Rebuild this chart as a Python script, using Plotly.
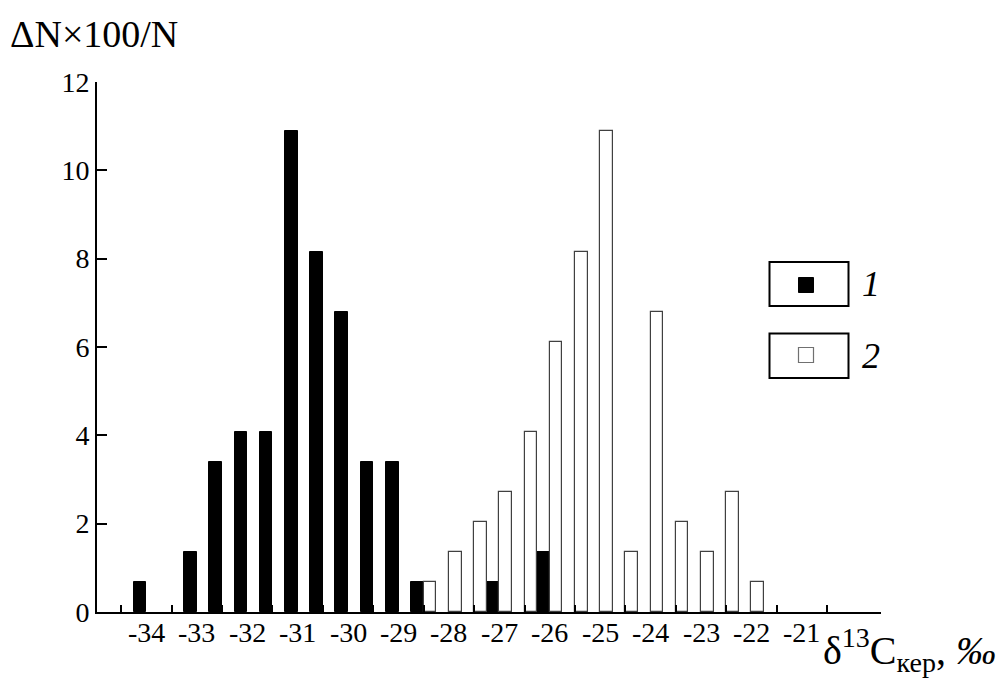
import plotly.graph_objects as go

# ---------------- data ----------------
bin_centers = [-34.0, -33.5, -33.0, -32.5, -32.0, -31.5, -31.0, -30.5, -30.0,
               -29.5, -29.0, -28.5, -28.0, -27.5, -27.0, -26.5, -26.0, -25.5,
               -25.0, -24.5, -24.0, -23.5, -23.0, -22.5, -22.0]
series_1 = [0.68, 0, 1.36, 3.40, 4.08, 4.08, 10.88, 8.16, 6.80,
            3.40, 3.40, 0.68, 0, 0, 0.68, 0, 1.36, 0,
            0, 0, 0, 0, 0, 0, 0]
series_2 = [0, 0, 0, 0, 0, 0, 0, 0, 0,
            0, 0, 0.68, 1.36, 2.04, 2.72, 4.08, 6.12, 8.16,
            10.88, 1.36, 6.80, 2.04, 1.36, 2.72, 0.68]
x_tick_values = [-34, -33, -32, -31, -30, -29, -28, -27, -26, -25, -24, -23, -22, -21]
x_tick_labels = ["-34", "-33", "-32", "-31", "-30", "-29", "-28", "-27", "-26",
                 "-25", "-24", "-23", "-22", "-21"]
x_bin_edges = [-34.5, -33.5, -32.5, -31.5, -30.5, -29.5, -28.5, -27.5, -26.5,
               -25.5, -24.5, -23.5, -22.5, -21.5, -20.5]
y_tick_values = [0, 2, 4, 6, 8, 10, 12]
legend_labels = ["1", "2"]

# ---------------- layout geometry (window pixels) ----------------
WIN_W, WIN_H = 1006, 682
OFF = 8                      # default page-body margin
W, H = WIN_W - OFF, WIN_H - OFF
L, R, T, B = 97, 881, 82, 612   # plot area in window pixels


def px2x(px):
    return (px - L) / (R - L)


def py2y(py):
    return (B - py) / (B - T)


FONT = "Liberation Serif, Times New Roman, serif"

fig = go.Figure()
fig.add_trace(go.Bar(
    x=bin_centers, y=[v if v else None for v in series_1], name=legend_labels[0],
    marker=dict(color="black", line=dict(color="black", width=1)),
))
fig.add_trace(go.Bar(
    x=bin_centers, y=[v if v else None for v in series_2], name=legend_labels[1],
    marker=dict(color="white", line=dict(color="#404040", width=1.2)),
))

fig.update_layout(
    width=W, height=H,
    margin=dict(l=L - OFF, r=W - (R - OFF), t=T - OFF, b=H - (B - OFF), pad=0),
    paper_bgcolor="white", plot_bgcolor="white",
    barmode="group", bargap=0, bargroupgap=0,
    showlegend=False,
    font=dict(family=FONT, color="black"),
    xaxis=dict(
        range=[-34.98, -19.43],
        tickmode="array", tickvals=x_tick_values, ticktext=x_tick_labels,
        showticklabels=False,
        ticks="", showline=True, linecolor="black", linewidth=2,
        showgrid=False, zeroline=False,
        minor=dict(tickmode="array", tickvals=x_bin_edges, ticks="inside",
                   ticklen=7, tickwidth=2, tickcolor="black", showgrid=False),
    ),
    yaxis=dict(
        range=[0, 12],
        tickmode="array", tickvals=y_tick_values,
        ticks="inside", ticklen=10, tickwidth=2, tickcolor="black",
        showline=True, linecolor="black", linewidth=2,
        showgrid=False, zeroline=False,
        tickfont=dict(family=FONT, size=28, color="black"),
    ),
)

annotations = [
    dict(text=lab, xref="x", yref="paper", x=val, y=py2y(632),
         xanchor="center", yanchor="middle", showarrow=False,
         font=dict(family=FONT, size=28, color="black"))
    for val, lab in zip(x_tick_values, x_tick_labels)
]
annotations += [
    dict(text="ΔN×100/N", xref="paper", yref="paper",
         x=px2x(OFF), y=py2y(34), xanchor="left", yanchor="middle",
         showarrow=False, font=dict(family=FONT, size=38, color="black")),
    dict(text="δ<sup>13</sup>C<sub>кер</sub>, <i>‰</i>", xref="paper", yref="paper",
         x=px2x(821), y=py2y(650), xanchor="left", yanchor="middle",
         showarrow=False, font=dict(family=FONT, size=40, color="black")),
    dict(text="<i>%s</i>" % legend_labels[0], xref="paper", yref="paper",
         x=px2x(860), y=py2y(284), xanchor="left", yanchor="middle",
         showarrow=False, font=dict(family=FONT, size=36, color="black")),
    dict(text="<i>%s</i>" % legend_labels[1], xref="paper", yref="paper",
         x=px2x(860), y=py2y(356), xanchor="left", yanchor="middle",
         showarrow=False, font=dict(family=FONT, size=36, color="black")),
]
fig.update_layout(annotations=annotations)

shapes = [
    dict(type="rect", xref="paper", yref="paper",
         x0=px2x(769.5), x1=px2x(848.5), y0=py2y(262), y1=py2y(306),
         line=dict(color="black", width=2), fillcolor="white"),
    dict(type="rect", xref="paper", yref="paper",
         x0=px2x(798.5), x1=px2x(813.5), y0=py2y(277.5), y1=py2y(292.5),
         line=dict(color="black", width=1), fillcolor="black"),
    dict(type="rect", xref="paper", yref="paper",
         x0=px2x(769.5), x1=px2x(848.5), y0=py2y(333.5), y1=py2y(378),
         line=dict(color="black", width=2), fillcolor="white"),
    dict(type="rect", xref="paper", yref="paper",
         x0=px2x(798.5), x1=px2x(813.5), y0=py2y(347.5), y1=py2y(362.5),
         line=dict(color="#707070", width=1.2), fillcolor="white"),
]
fig.update_layout(shapes=shapes)

fig.write_html("out.html")
